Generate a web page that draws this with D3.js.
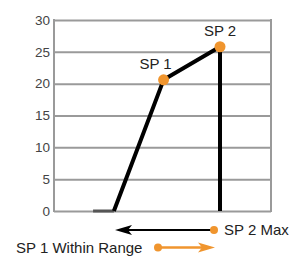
<!DOCTYPE html>
<html><head><meta charset="utf-8">
<script src="https://cdn.jsdelivr.net/npm/d3@7"></script>
<style>body{margin:0;background:#fff}svg{display:block}text{font-family:"Liberation Sans",Arial,sans-serif}</style>
</head><body><svg id="c" width="290" height="257"></svg>
<script>
const yTicks = [0, 5, 10, 15, 20, 25, 30];
const flatSegment = [{x: 18, y: 0}, {x: 27.6, y: 0}];
const profile = [{x: 27.6, y: 0}, {x: 50.5, y: 20.6}, {x: 76.5, y: 25.8}, {x: 76.5, y: 0}];
const setpoints = [{name: "SP 1", x: 50.5, y: 20.6, dx: -8}, {name: "SP 2", x: 76.5, y: 25.8, dx: 0}];
const legendItems = ["SP 2 Max", "SP 1 Within Range"];

const svg = d3.select("#c");
const m = {l: 54, r: 271, t: 20, b: 211};
const x = d3.scaleLinear().domain([0, 100]).range([m.l, m.r]);
const y = d3.scaleLinear().domain([0, 30]).range([m.b, m.t]);
const orange = "#f0952e", grid = "#9a9a9a";

const ax = svg.append("g").attr("transform", `translate(${m.l},0)`)
  .call(d3.axisLeft(y).tickValues(yTicks).tickSize(-(m.r - m.l)).tickPadding(4));
ax.select(".domain").remove();
ax.selectAll(".tick line").attr("stroke", grid).attr("stroke-width", 2);
ax.selectAll(".tick text").attr("fill", "#444").style("font-size", "13.5px");
svg.append("line").attr("x1", m.l).attr("x2", m.l).attr("y1", m.t - 1).attr("y2", m.b + 1).attr("stroke", grid).attr("stroke-width", 2);
svg.append("line").attr("x1", m.r).attr("x2", m.r).attr("y1", m.t - 1).attr("y2", m.b + 1).attr("stroke", grid).attr("stroke-width", 2);

const line = d3.line().x(d => x(d.x)).y(d => y(d.y));
svg.append("path").attr("d", line(flatSegment)).attr("stroke", "#555").attr("stroke-width", 3).attr("fill", "none");
svg.append("path").attr("d", line(profile)).attr("stroke", "#000").attr("stroke-width", 4).attr("fill", "none").attr("stroke-linejoin", "round");
svg.selectAll("circle.sp").data(setpoints).join("circle").attr("class", "sp")
  .attr("cx", d => x(d.x)).attr("cy", d => y(d.y)).attr("r", 5.5).attr("fill", orange);
svg.selectAll("text.sp").data(setpoints).join("text").attr("class", "sp")
  .attr("x", d => x(d.x) + d.dx).attr("y", d => y(d.y) - 11).attr("text-anchor", "middle")
  .attr("fill", "#222").style("font-size", "15px").text(d => d.name);

// legend arrows
function arrow(x0, x1, yy, color, w) {
  const dir = Math.sign(x1 - x0), L = 17, H = 5;
  const back = x1 - dir * L;
  svg.append("line").attr("x1", x0).attr("x2", back + dir * 4).attr("y1", yy).attr("y2", yy).attr("stroke", color).attr("stroke-width", w);
  const p = d3.path();
  p.moveTo(x1, yy); p.lineTo(back, yy - H); p.lineTo(back + dir * 4, yy); p.lineTo(back, yy + H); p.closePath();
  svg.append("path").attr("d", p.toString()).attr("fill", color);
  svg.append("circle").attr("cx", x0).attr("cy", yy).attr("r", 4).attr("fill", orange);
}
arrow(214, 115, 230, "#000", 2);
svg.append("text").attr("x", 224).attr("y", 235).attr("fill", "#222").style("font-size", "15px").text(legendItems[0]);
arrow(158, 215, 247.5, orange, 2.5);
svg.append("text").attr("x", 16).attr("y", 253).attr("fill", "#222").style("font-size", "15px").text(legendItems[1]);
</script></body></html>
